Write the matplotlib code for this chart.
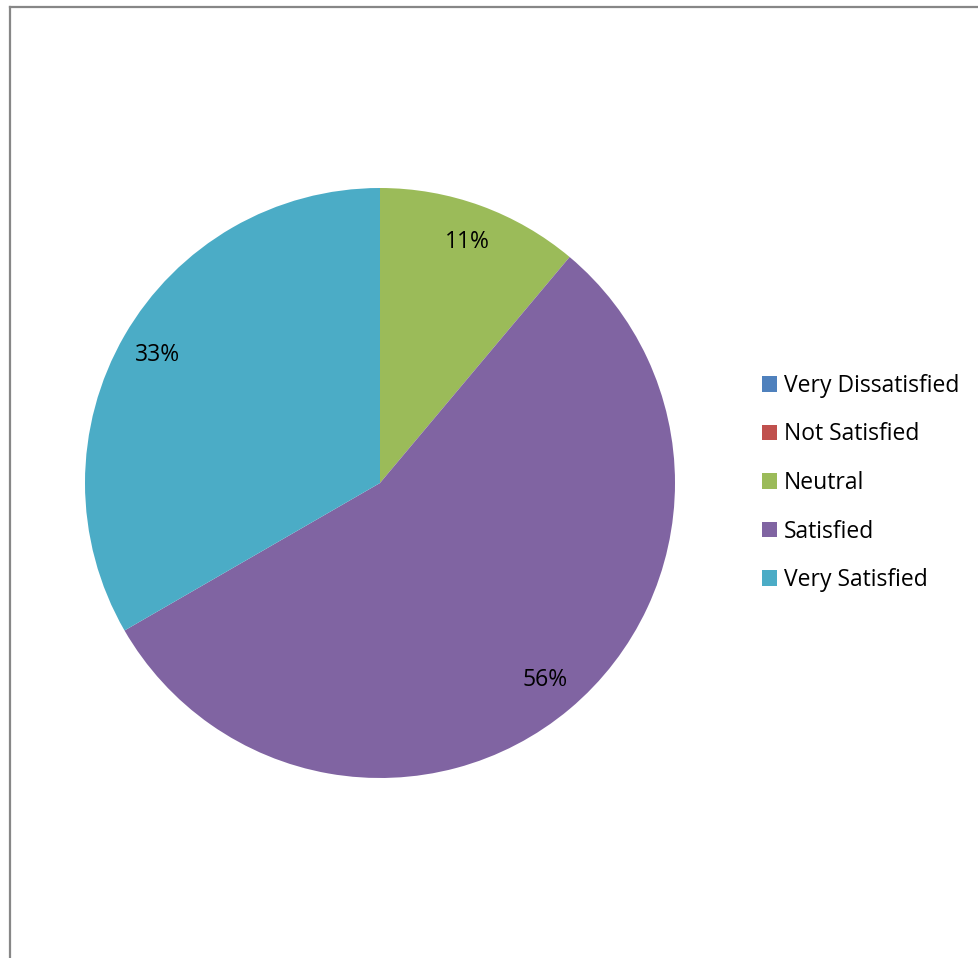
import matplotlib
matplotlib.use("Agg")
import matplotlib.pyplot as plt
from matplotlib.patches import Patch
from matplotlib.lines import Line2D

# survey responses (counts)
categories = ["Very Dissatisfied", "Not Satisfied", "Neutral", "Satisfied", "Very Satisfied"]
counts = [0, 0, 1, 5, 3]
colors = ["#4F81BD", "#C0504D", "#9BBB59", "#8064A2", "#4BACC6"]

plt.rcParams["font.family"] = ["Open Sans", "DejaVu Sans"]

W, H = 979, 958
fig = plt.figure(figsize=(W / 100, H / 100), dpi=100)

# pie centred at (380, 483) px, radius 295 px
cx, cy, r = 380, 483, 295
ax = fig.add_axes([(cx - r) / W, (H - cy - r) / H, 2 * r / W, 2 * r / H])

shown = [(c, v, col) for c, v, col in zip(categories, counts, colors) if v > 0]
wedges, texts, autotexts = ax.pie(
    [v for _, v, _ in shown],
    colors=[col for _, _, col in shown],
    startangle=90,
    counterclock=False,
    radius=1,
    autopct=lambda p: f"{p:.0f}%",
    pctdistance=0.87,
    wedgeprops=dict(linewidth=0),
    textprops=dict(fontsize=16.5, color="black"),
)
ax.set_xlim(-1, 1)
ax.set_ylim(-1, 1)
ax.set_aspect("equal")
ax.axis("off")

handles = [Patch(facecolor=c, edgecolor="none") for c in colors]
fig.legend(handles, categories, loc="center left",
           bbox_to_anchor=(762 / W, 1 - 483 / H),
           frameon=False, fontsize=16.5, handlelength=0.65, handleheight=0.65,
           handletextpad=0.3, labelspacing=1.07, borderpad=0, borderaxespad=0)

# partial chart-area border (left and top edges)
fig.add_artist(Line2D([10 / W, 10 / W], [0, 1 - 7 / H], color="#878787", linewidth=1.6))
fig.add_artist(Line2D([10 / W, 1], [1 - 7 / H, 1 - 7 / H], color="#878787", linewidth=1.6))

fig.savefig("out.png", dpi=100, facecolor="white")
